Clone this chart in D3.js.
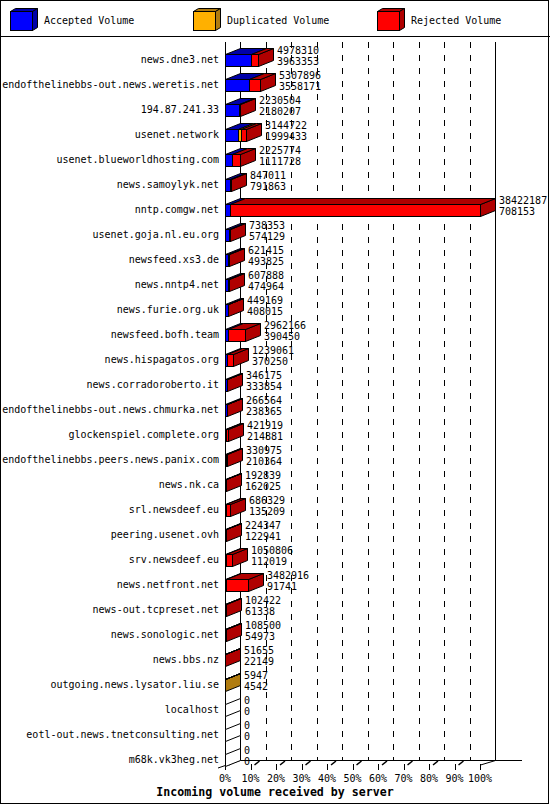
<!DOCTYPE html>
<html><head><meta charset="utf-8">
<script src="https://cdn.jsdelivr.net/npm/d3@7"></script>
<style>
html,body{margin:0;padding:0;background:#fff;}
svg{display:block;}
text{font-family:"DejaVu Sans Mono",monospace;}
line,rect{shape-rendering:crispEdges;}
</style></head>
<body>
<svg id="c" width="550" height="805"></svg>
<script>
const servers = ["news.dne3.net","endofthelinebbs-out.news.weretis.net","194.87.241.33","usenet.network","usenet.blueworldhosting.com","news.samoylyk.net","nntp.comgw.net","usenet.goja.nl.eu.org","newsfeed.xs3.de","news.nntp4.net","news.furie.org.uk","newsfeed.bofh.team","news.hispagatos.org","news.corradoroberto.it","endofthelinebbs-out.news.chmurka.net","glockenspiel.complete.org","endofthelinebbs.peers.news.panix.com","news.nk.ca","srl.newsdeef.eu","peering.usenet.ovh","srv.newsdeef.eu","news.netfront.net","news-out.tcpreset.net","news.sonologic.net","news.bbs.nz","outgoing.news.lysator.liu.se","localhost","eotl-out.news.tnetconsulting.net","m68k.vk3heg.net"];
const totals = [4978310,5307896,2230504,3144722,2225774,847011,38422187,738353,621415,607888,449169,2962166,1239061,346175,266564,421919,330975,192839,686329,224347,1050806,3482916,102422,108500,51655,5947,0,0,0];
const accepted = [3963353,3558171,2180207,1999433,1111728,791863,708153,574129,493825,474964,408015,390450,370250,333854,238365,214881,210364,162025,135209,122941,112019,91741,61338,54973,22149,4542,0,0,0];
const duplicated = [0,0,0,480000,0,0,0,0,0,0,0,0,0,0,0,0,0,0,0,0,0,0,0,0,0,1405,0,0,0];
const rejected = [1014957,1749725,50297,665289,1114046,55148,37714034,164224,127590,132924,41154,2571716,868811,12321,28199,207038,120611,30814,551120,101406,938787,3391175,41084,53527,29506,0,0,0,0];
const seriesNames = ["Accepted Volume","Duplicated Volume","Rejected Volume"];
const tickPercents = [0,10,20,30,40,50,60,70,80,90,100];
const axisTitle = "Incoming volume received by server";

const front = ["#0000ff","#ffb000","#ff0000"];
const dark = ["#0000a8","#b07c10","#b00000"];

const svg = d3.select("#c");
const DX = 15, DY = -6;
const FLOOR = 766;
const x = d3.scaleLinear().domain([0, d3.max(totals)]).range([225, 480]);
const xp = d3.scaleLinear().domain([0, 100]).range([225, 480]);
const y = d3.scalePoint().domain(servers).range([59, 759]);

// frame
svg.append("rect").attr("x",0.5).attr("y",0.5).attr("width",548).attr("height",803)
  .attr("fill","none").attr("stroke","#000");
svg.append("line").attr("x1",0).attr("x2",550).attr("y1",36.5).attr("y2",36.5).attr("stroke","#000");

// legend
const legX = [10, 193, 377];
seriesNames.forEach((n,i)=>{
  const g = svg.append("g");
  const lx = legX[i], ty = 11, by = 30, w = 22, d = 5, dd = -3;
  g.append("path").attr("d",`M${lx+0.5},${ty+0.5}L${lx+w+0.5},${ty+0.5}L${lx+w+d+0.5},${ty+dd+0.5}L${lx+d+0.5},${ty+dd+0.5}Z`)
    .attr("fill",dark[i]).attr("stroke","#000");
  g.append("path").attr("d",`M${lx+w+0.5},${ty+0.5}L${lx+w+d+0.5},${ty+dd+0.5}L${lx+w+d+0.5},${by+dd+0.5}L${lx+w+0.5},${by+0.5}Z`)
    .attr("fill",dark[i]).attr("stroke","#000");
  g.append("rect").attr("x",lx+0.5).attr("y",ty+0.5).attr("width",w).attr("height",by-ty)
    .attr("fill",front[i]).attr("stroke","#000");
  g.append("text").attr("x",lx+34).attr("y",24).attr("font-size","10px").text(n);
});

// walls / grid
const TOP = 42;
svg.append("line").attr("x1",240.5).attr("x2",240.5).attr("y1",TOP).attr("y2",FLOOR+DY).attr("stroke","#000");
svg.append("line").attr("x1",495.5).attr("x2",495.5).attr("y1",TOP).attr("y2",FLOOR+DY).attr("stroke","#000");
svg.append("line").attr("x1",225.5).attr("x2",225.5).attr("y1",TOP).attr("y2",FLOOR).attr("stroke","#000");
svg.selectAll("line.grid").data(tickPercents.filter(t=>t>0&&t<100)).enter().append("line")
  .attr("class","grid")
  .attr("x1",d=>Math.round(xp(d)+DX)+0.5).attr("x2",d=>Math.round(xp(d)+DX)+0.5)
  .attr("y1",TOP).attr("y2",FLOOR+DY).attr("stroke","#000").attr("stroke-dasharray","6,7");
// floor
svg.append("line").attr("x1",240).attr("x2",522).attr("y1",FLOOR+DY+0.5).attr("y2",FLOOR+DY+0.5).attr("stroke","#000");
svg.append("line").attr("x1",218).attr("y1",FLOOR+2).attr("x2",240).attr("y2",FLOOR+DY+0.5).attr("stroke","#000").style("shape-rendering","auto");
svg.append("line").attr("x1",480.5).attr("y1",FLOOR-1).attr("x2",495.5).attr("y2",FLOOR+DY+0.5).attr("stroke","#000").style("shape-rendering","auto");

// ticks
const tk = svg.selectAll("g.tick").data(tickPercents).enter().append("g").attr("class","tick");
tk.append("line").attr("x1",d=>Math.round(xp(d))+0.5).attr("x2",d=>Math.round(xp(d))+0.5)
  .attr("y1",FLOOR-2).attr("y2",FLOOR+4).attr("stroke","#000");
tk.filter(d=>d<100).append("line").attr("x1",d=>xp(d)+4).attr("y1",FLOOR-1).attr("x2",d=>xp(d)+9).attr("y2",FLOOR-5)
  .attr("stroke","#000").attr("stroke-width",1.5).style("shape-rendering","auto");
tk.append("text").attr("x",d=>xp(d)).attr("y",782).attr("text-anchor","middle").attr("font-size","10px")
  .text(d=>d+"%");
svg.append("text").attr("x",275).attr("y",796).attr("text-anchor","middle")
  .attr("font-size","11.6px").attr("font-weight","bold").text(axisTitle);

// bars
const rows = servers.map((s,i)=>({s, i, vals:[accepted[i],duplicated[i],rejected[i]], total: totals[i]}));
const bg = svg.append("g");
rows.forEach(r=>{
  const c = y(r.s);
  const yt = c - 5, yb = c + 7;
  let cum = 0, lastK = -1;
  const segs = [];
  r.vals.forEach((v,k)=>{
    if (v > 0) { segs.push({k, a:Math.round(x(cum)), b:Math.round(x(cum+v))}); lastK = k; }
    cum += v;
  });
  const xe = Math.round(x(r.total));
  bg.append("path").attr("d",`M${xe+0.5},${yt+0.5}L${xe+DX+0.5},${yt+DY+0.5}L${xe+DX+0.5},${yb+DY+0.5}L${xe+0.5},${yb+0.5}Z`)
    .attr("fill", lastK>=0 ? dark[lastK] : "#fff").attr("stroke","#000");
  segs.forEach(sg=>{
    bg.append("path").attr("d",`M${sg.a+0.5},${yt+0.5}L${sg.b+0.5},${yt+0.5}L${sg.b+DX+0.5},${yt+DY+0.5}L${sg.a+DX+0.5},${yt+DY+0.5}Z`)
      .attr("fill",dark[sg.k]).attr("stroke","#000");
  });
  segs.forEach(sg=>{
    bg.append("rect").attr("x",sg.a+0.5).attr("y",yt+0.5).attr("width",Math.max(0,sg.b-sg.a)).attr("height",yb-yt)
      .attr("fill",front[sg.k]).attr("stroke","#000");
  });
  bg.append("text").attr("x",xe+DX+4).attr("y",c-5).attr("font-size","10px").text(r.total);
  bg.append("text").attr("x",xe+DX+4).attr("y",c+6).attr("font-size","10px").text(r.vals[0]);
  bg.append("text").attr("x",219).attr("y",c+4).attr("text-anchor","end").attr("font-size","10px").text(r.s);
});
</script>
</body></html>
